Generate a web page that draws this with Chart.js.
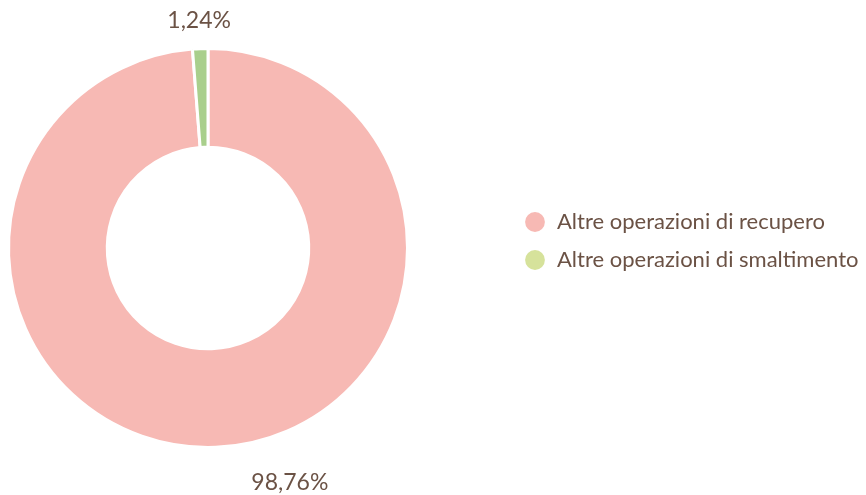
<!DOCTYPE html>
<html>
<head>
<meta charset="utf-8">
<script src="https://cdn.jsdelivr.net/npm/chart.js@4"></script>
<style>
  html, body { margin: 0; padding: 0; background: #ffffff; }
  #wrap { width: 866px; height: 495px; position: relative; }
</style>
</head>
<body>
<div id="wrap"><canvas id="waste"></canvas></div>
<script>
// waste destination shares
const categories = ["Altre operazioni di recupero", "Altre operazioni di smaltimento"];
const shares = [98.76, 1.24];
const shareLabels = ["98,76%", "1,24%"];

const sliceColors = ["#f7b9b4", "#a9cf8c"];
const legendColors = ["#f7b9b4", "#d6e29b"];
const textColor = "#6b5245";

// percentage labels outside the ring, placed along each slice's mid angle
const outerLabels = {
  id: "outerLabels",
  afterDatasetsDraw(chart, args, opts) {
    const ctx = chart.ctx;
    const meta = chart.getDatasetMeta(0);
    ctx.save();
    ctx.font = opts.font;
    ctx.fillStyle = opts.color;
    ctx.textAlign = "center";
    ctx.textBaseline = "middle";
    meta.data.forEach((arc, i) => {
      const p = arc.getProps(["x", "y", "startAngle", "endAngle", "outerRadius"], true);
      const mid = (p.startAngle + p.endAngle) / 2;
      const r = p.outerRadius + opts.distance;
      const shift = opts.shift[i] || [0, 0];
      ctx.fillText(shareLabels[i], p.x + Math.cos(mid) * r + shift[0], p.y + Math.sin(mid) * r + shift[1]);
    });
    ctx.restore();
  }
};

// widen the legend box so the ring keeps the left half, then slide the items over
const legendPlacement = {
  id: "legendPlacement",
  beforeLayout(chart, args, opts) {
    const legend = chart.legend;
    if (!legend || legend._placed) return;
    const fit = legend.fit.bind(legend);
    legend.fit = function () {
      fit();
      this.width = opts.width;
    };
    legend._placed = true;
  },
  afterLayout(chart, args, opts) {
    const legend = chart.legend;
    if (!legend) return;
    legend.left = opts.left;
    legend.top += opts.dy;
    legend.bottom += opts.dy;
  }
};

const chart = new Chart(document.getElementById("waste"), {
  type: "doughnut",
  data: {
    labels: categories,
    datasets: [{
      data: shares,
      backgroundColor: sliceColors,
      borderColor: "#ffffff",
      borderWidth: 3,
      hoverOffset: 0
    }]
  },
  options: {
    responsive: true,
    maintainAspectRatio: false,
    animation: false,
    cutout: "50.5%",
    layout: { padding: { left: 7, top: 47, bottom: 46, right: 0 } },
    plugins: {
      tooltip: { enabled: false },
      legend: {
        position: "right",
        align: "center",
        labels: {
          usePointStyle: true,
          pointStyle: "circle",
          boxWidth: 22,
          boxHeight: 14,
          padding: 16,
          color: textColor,
          font: { family: "Lato", size: 22 },
          generateLabels: () => categories.map((name, i) => ({
            text: name,
            fillStyle: legendColors[i],
            strokeStyle: legendColors[i],
            lineWidth: 0,
            pointStyle: "circle",
            fontColor: textColor,
            hidden: false,
            index: i
          }))
        }
      },
      outerLabels: {
        font: "23px Lato",
        color: textColor,
        distance: 28,
        shift: [[73, 7], [0, 0]]
      },
      legendPlacement: { width: 457, left: 508, dy: -7 }
    }
  },
  plugins: [outerLabels, legendPlacement]
});
</script>
</body>
</html>
